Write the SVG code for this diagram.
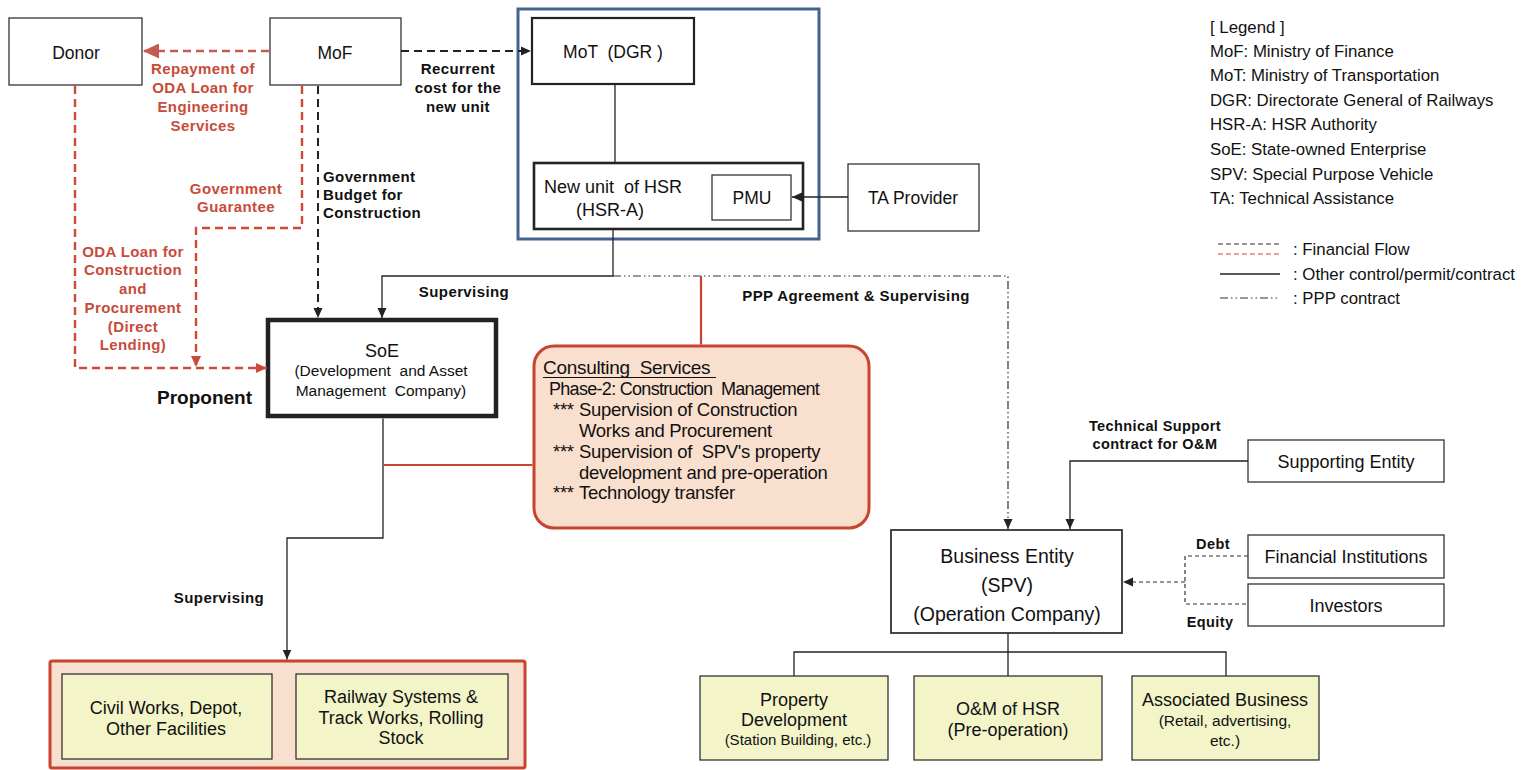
<svg xmlns="http://www.w3.org/2000/svg" width="1528" height="770" viewBox="0 0 1528 770">
  <style>
    .box { fill: #ffffff; stroke: #333333; stroke-width: 1.3; }
    .boxb { fill: #ffffff; stroke: #222222; stroke-width: 2.2; }
    .ybox { fill: #f3f5c9; stroke: #333333; stroke-width: 1.3; }
    .peach { fill: #f9dfcd; stroke: #c9432f; stroke-width: 3; }
    .t { font-family: "Liberation Sans", Arial, sans-serif; fill: #111111; text-anchor: middle; white-space: pre; }
    .n { font-size: 17.5px; }
    .lb { font-family: "Liberation Sans", Arial, sans-serif; font-weight: bold; font-size: 15px; letter-spacing: 0.4px; text-anchor: middle; fill: #111111; }
    .red { fill: #c84b3a; }
    .cs { font-family: "Liberation Sans", Arial, sans-serif; font-size: 18.5px; fill: #111111; letter-spacing: -0.3px; white-space: pre; }
    .lg { font-family: "Liberation Sans", Arial, sans-serif; font-size: 16.8px; fill: #111111; }
    .solid { fill: none; stroke: #222222; stroke-width: 1.3; }
    .dashk { fill: none; stroke: #222222; stroke-width: 2; stroke-dasharray: 8 5; }
    .dashr { fill: none; stroke: #cc4a37; stroke-width: 2.4; stroke-dasharray: 8 5; }
    .dashthin { fill: none; stroke: #333333; stroke-width: 1.2; stroke-dasharray: 4 3; }
    .ppp { fill: none; stroke: #333333; stroke-width: 1.2; stroke-dasharray: 8 3 1.5 3 1.5 3; }
    .redline { fill: none; stroke: #c9432f; stroke-width: 2.2; }
  </style>
  <defs>
    <marker id="ak" markerUnits="userSpaceOnUse" markerWidth="11" markerHeight="10" refX="10" refY="5" orient="auto">
      <path d="M0,0.5 L10,5 L0,9.5 z" fill="#222222"/>
    </marker>
    <marker id="ar" markerUnits="userSpaceOnUse" markerWidth="12" markerHeight="11" refX="11" refY="5.5" orient="auto">
      <path d="M0,0.5 L11,5.5 L0,10.5 z" fill="#cc4a37"/>
    </marker>
    <marker id="arBig" markerUnits="userSpaceOnUse" markerWidth="17" markerHeight="15" refX="16" refY="7.5" orient="auto">
      <path d="M0,0 L16,7.5 L0,15 z" fill="#c55a50"/>
    </marker>
  </defs>

  <rect width="1528" height="770" fill="#ffffff"/>

  <!-- nodes -->
  <g id="donor">
    <rect class="box" x="9" y="18" width="133" height="67"/>
    <text class="t n" x="76" y="59">Donor</text>
  </g>
  <g id="mof">
    <rect class="box" x="270" y="18" width="131" height="67"/>
    <text class="t n" x="335" y="59">MoF</text>
  </g>
  <g id="hsr-group">
    <rect x="518" y="9" width="301" height="230" fill="none" stroke="#44648f" stroke-width="3"/>
  </g>
  <g id="mot">
    <rect class="boxb" x="532" y="18" width="162" height="66"/>
    <text class="t n" x="613" y="58">MoT  (DGR )</text>
  </g>
  <g id="hsr-a">
    <rect class="boxb" x="534" y="163" width="269" height="66" style="stroke-width:2.6"/>
    <text class="t" x="613" y="193" style="font-size:18px">New unit  of HSR</text>
    <text class="t" x="610" y="216" style="font-size:18px">(HSR-A)</text>
  </g>
  <g id="pmu">
    <rect class="box" x="712" y="175" width="79" height="45"/>
    <text class="t n" x="752" y="204">PMU</text>
  </g>
  <g id="ta-provider">
    <rect class="box" x="848" y="164" width="131" height="67"/>
    <text class="t n" x="913" y="204">TA Provider</text>
  </g>
  <g id="soe">
    <rect x="268" y="320" width="228" height="96" fill="#ffffff" stroke="#222222" stroke-width="4.5"/>
    <text class="t" x="382" y="357" style="font-size:18px">SoE</text>
    <text class="t" x="381" y="376" style="font-size:15.5px">(Development  and Asset</text>
    <text class="t" x="381" y="396" style="font-size:15.5px">Management  Company)</text>
    <text class="t" x="157" y="404" style="font-size:19px;font-weight:bold;text-anchor:start">Proponent</text>
  </g>
  <g id="consulting">
    <rect class="peach" x="534" y="346" width="335" height="182" rx="20" ry="20"/>
    <text class="cs" x="543" y="374" style="font-size:19px">Consulting  Services</text>
    <line x1="543" y1="377.5" x2="716" y2="377.5" stroke="#111111" stroke-width="1.2"/>
    <text class="cs" x="549" y="395" style="font-size:18px;letter-spacing:-0.7px">Phase-2: Construction  Management</text>
    <text class="cs" x="553" y="416">***</text>
    <text class="cs" x="579" y="416">Supervision of Construction</text>
    <text class="cs" x="579" y="437">Works and Procurement</text>
    <text class="cs" x="553" y="458">***</text>
    <text class="cs" x="579" y="458">Supervision of  SPV's property</text>
    <text class="cs" x="579" y="479">development and pre-operation</text>
    <text class="cs" x="553" y="499">***</text>
    <text class="cs" x="579" y="499">Technology transfer</text>
  </g>
  <g id="construction-packages">
    <rect class="peach" x="50" y="661" width="475" height="107" rx="2"/>
  </g>
  <g id="civil-works">
    <rect class="ybox" x="62" y="674" width="210" height="85"/>
    <text class="t" x="166" y="714" style="font-size:18px">Civil Works, Depot,</text>
    <text class="t" x="166" y="735" style="font-size:18px">Other Facilities</text>
  </g>
  <g id="railway-systems">
    <rect class="ybox" x="296" y="674" width="212" height="85"/>
    <text class="t" x="401" y="703" style="font-size:18px">Railway Systems &amp;</text>
    <text class="t" x="401" y="724" style="font-size:18px">Track Works, Rolling</text>
    <text class="t" x="401" y="744" style="font-size:18px">Stock</text>
  </g>
  <g id="business-entity">
    <rect class="box" x="891" y="530" width="231" height="103" style="stroke-width:1.8"/>
    <text class="t" x="1007" y="563" style="font-size:19.5px">Business Entity</text>
    <text class="t" x="1007" y="592" style="font-size:19.5px">(SPV)</text>
    <text class="t" x="1007" y="621" style="font-size:19.5px">(Operation Company)</text>
  </g>
  <g id="supporting-entity">
    <rect class="box" x="1248" y="440" width="196" height="42"/>
    <text class="t" x="1346" y="468" style="font-size:18px">Supporting Entity</text>
  </g>
  <g id="financial-institutions">
    <rect class="box" x="1248" y="535" width="196" height="43"/>
    <text class="t" x="1346" y="563" style="font-size:18px">Financial Institutions</text>
  </g>
  <g id="investors">
    <rect class="box" x="1248" y="584" width="196" height="42"/>
    <text class="t" x="1346" y="612" style="font-size:18px">Investors</text>
  </g>
  <g id="property-development">
    <rect class="ybox" x="700" y="676" width="188" height="84"/>
    <text class="t" x="794" y="706" style="font-size:18px">Property</text>
    <text class="t" x="794" y="726" style="font-size:18px">Development</text>
    <text class="t" x="798" y="745" style="font-size:15px">(Station Building, etc.)</text>
  </g>
  <g id="om-hsr">
    <rect class="ybox" x="914" y="676" width="188" height="84"/>
    <text class="t" x="1008" y="715" style="font-size:18px">O&amp;M of HSR</text>
    <text class="t" x="1008" y="736" style="font-size:18px">(Pre-operation)</text>
  </g>
  <g id="associated-business">
    <rect class="ybox" x="1132" y="676" width="187" height="84"/>
    <text class="t" x="1225" y="706" style="font-size:18px">Associated Business</text>
    <text class="t" x="1225" y="726" style="font-size:15.5px">(Retail, advertising,</text>
    <text class="t" x="1225" y="746" style="font-size:15.5px">etc.)</text>
  </g>

  <!-- connectors -->
  <g id="connectors">
    <path class="dashr" d="M269,51 L143,51" style="stroke:#c55a50" marker-end="url(#arBig)"/>
    <path class="dashk" d="M401,51 L531,51" marker-end="url(#ak)"/>
    <path class="dashr" d="M75,86 L75,368 L267,368" marker-end="url(#ar)"/>
    <path class="dashr" d="M302,86 L302,228 L196,228 L196,367" marker-end="url(#ar)"/>
    <path class="dashk" d="M318,86 L318,318" marker-end="url(#ak)"/>
    <path class="solid" d="M615,84 L615,162"/>
    <path class="solid" d="M848,197 L792,197" marker-end="url(#ak)"/>
    <path class="solid" d="M613,230 L613,276 L382,276 L382,318" marker-end="url(#ak)"/>
    <path class="ppp" d="M613,276 L1008,276 L1008,529" marker-end="url(#ak)"/>
    <path class="redline" d="M701,276 L701,344.5"/>
    <path class="solid" d="M383,418.5 L383,538 L287,538 L287,659.5" marker-end="url(#ak)"/>
    <path class="redline" d="M383,465 L532.5,465"/>
    <path class="solid" d="M1248,461 L1070,461 L1070,529" marker-end="url(#ak)"/>
    <path class="dashthin" d="M1248,556 L1185,556 L1185,604 L1248,604"/>
    <path class="dashthin" d="M1185,582 L1123,582" marker-end="url(#ak)"/>
    <path class="solid" d="M1008,634 L1008,676"/>
    <path class="solid" d="M794,676 L794,652 L1226,652 L1226,676"/>
  </g>

  <!-- flow labels -->
  <g id="labels">
    <text class="lb red" x="203" y="74">Repayment of</text>
    <text class="lb red" x="203" y="93">ODA Loan for</text>
    <text class="lb red" x="203" y="112">Engineering</text>
    <text class="lb red" x="203" y="131">Services</text>
    <text class="lb" x="458" y="74">Recurrent</text>
    <text class="lb" x="458" y="93">cost for the</text>
    <text class="lb" x="458" y="112">new unit</text>
    <text class="lb" x="323" y="182" style="text-anchor:start">Government</text>
    <text class="lb" x="323" y="200" style="text-anchor:start">Budget for</text>
    <text class="lb" x="323" y="218" style="text-anchor:start">Construction</text>
    <text class="lb red" x="236" y="194">Government</text>
    <text class="lb red" x="236" y="212">Guarantee</text>
    <text class="lb red" x="133" y="257">ODA Loan for</text>
    <text class="lb red" x="133" y="275">Construction</text>
    <text class="lb red" x="133" y="294">and</text>
    <text class="lb red" x="133" y="313">Procurement</text>
    <text class="lb red" x="133" y="332">(Direct</text>
    <text class="lb red" x="133" y="350">Lending)</text>
    <text class="lb" x="464" y="297">Supervising</text>
    <text class="lb" x="856" y="301">PPP Agreement &amp; Supervising</text>
    <text class="lb" x="219" y="603">Supervising</text>
    <text class="lb" x="1155" y="431" style="font-size:14.5px">Technical Support</text>
    <text class="lb" x="1155" y="449" style="font-size:14.5px">contract for O&amp;M</text>
    <text class="lb" x="1213" y="549" style="font-size:14.5px">Debt</text>
    <text class="lb" x="1210" y="627" style="font-size:14.5px">Equity</text>
  </g>

  <!-- legend -->
  <g id="legend">
    <text class="lg" x="1210" y="33">[ Legend ]</text>
    <text class="lg" x="1210" y="57">MoF: Ministry of Finance</text>
    <text class="lg" x="1210" y="81">MoT: Ministry of Transportation</text>
    <text class="lg" x="1210" y="106">DGR: Directorate General of Railways</text>
    <text class="lg" x="1210" y="130">HSR-A: HSR Authority</text>
    <text class="lg" x="1210" y="155">SoE: State-owned Enterprise</text>
    <text class="lg" x="1210" y="180">SPV: Special Purpose Vehicle</text>
    <text class="lg" x="1210" y="204">TA: Technical Assistance</text>
    <line x1="1218" y1="244" x2="1280" y2="244" stroke="#333333" stroke-width="1" stroke-dasharray="5 3"/>
    <line x1="1218" y1="254" x2="1280" y2="254" stroke="#d9412b" stroke-width="1" stroke-dasharray="5 3"/>
    <text class="lg" x="1293" y="255">: Financial Flow</text>
    <line x1="1220" y1="274" x2="1280" y2="274" stroke="#222222" stroke-width="1.3"/>
    <text class="lg" x="1293" y="280">: Other control/permit/contract</text>
    <line x1="1220" y1="298" x2="1280" y2="298" stroke="#333333" stroke-width="1.1" stroke-dasharray="8 3 1.5 3 1.5 3"/>
    <text class="lg" x="1293" y="304">: PPP contract</text>
  </g>
</svg>
